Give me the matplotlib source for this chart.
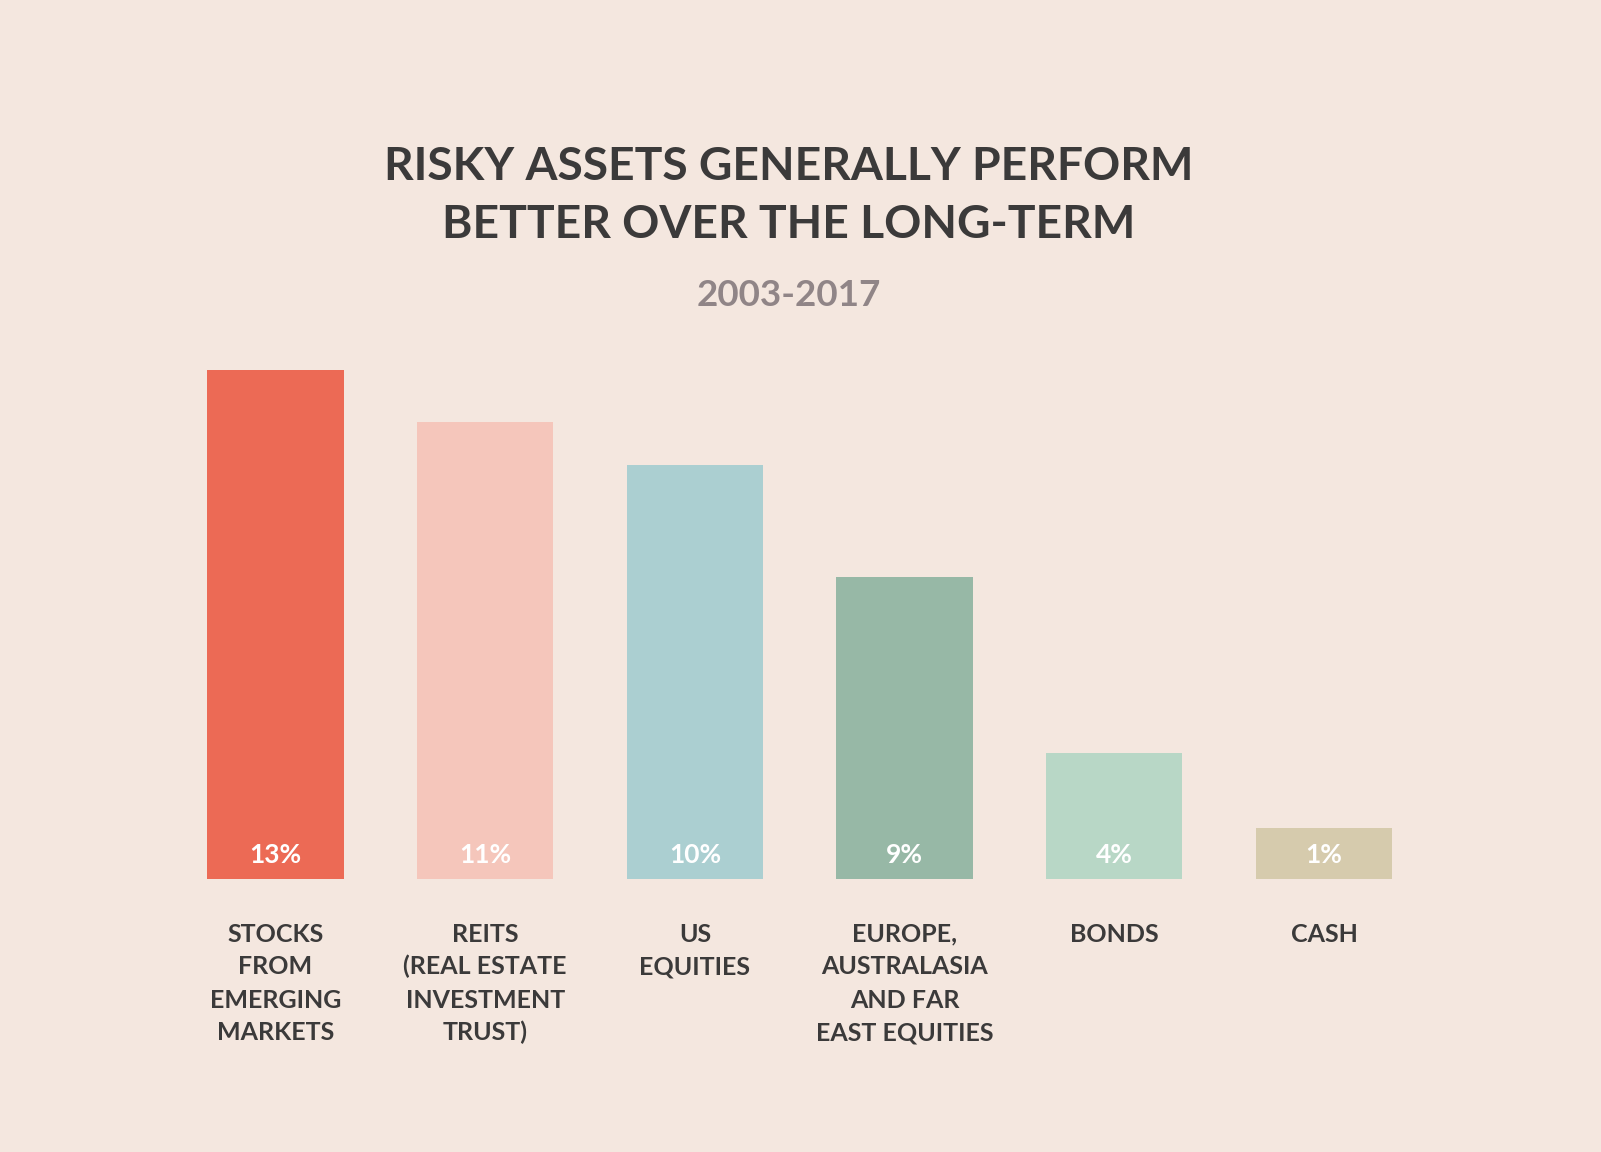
import matplotlib
matplotlib.use("Agg")
import matplotlib.pyplot as plt
import matplotlib.transforms as mtrans

# ---- data ----
categories = [
    "STOCKS\nFROM\nEMERGING\nMARKETS",
    "REITS\n(REAL ESTATE\nINVESTMENT\nTRUST)",
    "US\nEQUITIES",
    "EUROPE,\nAUSTRALASIA\nAND FAR\nEAST EQUITIES",
    "BONDS",
    "CASH",
]
bar_heights = [13.0, 11.67, 10.57, 7.72, 3.21, 1.30]
value_labels = ["13%", "11%", "10%", "9%", "4%", "1%"]
title_lines = ["RISKY ASSETS GENERALLY PERFORM", "BETTER OVER THE LONG-TERM"]
subtitle = "2003-2017"

bar_colors = ["#ec6a55", "#f5c6bb", "#abcfd1", "#97b8a6", "#b8d7c6", "#d6cbad"]
bg = "#f4e7df"
dark = "#3b3a3a"
muted = "#908587"

W, H = 1601, 1152
fig = plt.figure(figsize=(W / 100, H / 100), dpi=100, facecolor=bg)

# axes placement in pixels
base_px = 878.7          # baseline (from top)
top13_px = 370.3         # top of 13 bar
slot_px = 209.7
first_center_px = 275.5
left_px = first_center_px - slot_px / 2
ax = fig.add_axes([left_px / W, (H - base_px) / H, 6 * slot_px / W, (base_px - top13_px) / H])
ax.set_xlim(-0.5, 5.5)
ax.set_ylim(0, 13)
ax.set_facecolor(bg)
ax.patch.set_alpha(0)
for s in ax.spines.values():
    s.set_visible(False)
ax.set_xticks([])
ax.set_yticks([])

x = list(range(len(categories)))
ax.bar(x, bar_heights, width=0.65, color=bar_colors, linewidth=0)

FONT = ["Lato", "DejaVu Sans"]

def fy(px):
    return 1 - px / H

# title
fig.text(789 / W, fy(180.5), title_lines[0], ha="center", va="baseline",
         fontsize=33.2, fontweight="bold", color=dark, family=FONT)
fig.text(789 / W, fy(237.5), title_lines[1], ha="center", va="baseline",
         fontsize=33.2, fontweight="bold", color=dark, family=FONT)
fig.text(789 / W, fy(305.5), subtitle, ha="center", va="baseline",
         fontsize=26.5, fontweight="bold", color=muted, family=FONT)

blend = mtrans.blended_transform_factory(ax.transData, fig.transFigure)

# value labels inside bars
for xi, lab in zip(x, value_labels):
    ax.text(xi, fy(863), lab, transform=blend, ha="center", va="baseline",
            fontsize=19, fontweight="bold", color="white", family=FONT)

# category labels
for xi, cat in zip(x, categories):
    for k, line in enumerate(cat.split("\n")):
        ax.text(xi, fy(941.5 + 33 * k), line, transform=blend, ha="center",
                va="baseline", fontsize=18, fontweight="bold", color=dark,
                family=FONT)

fig.savefig("out.png", dpi=100, facecolor=bg)
